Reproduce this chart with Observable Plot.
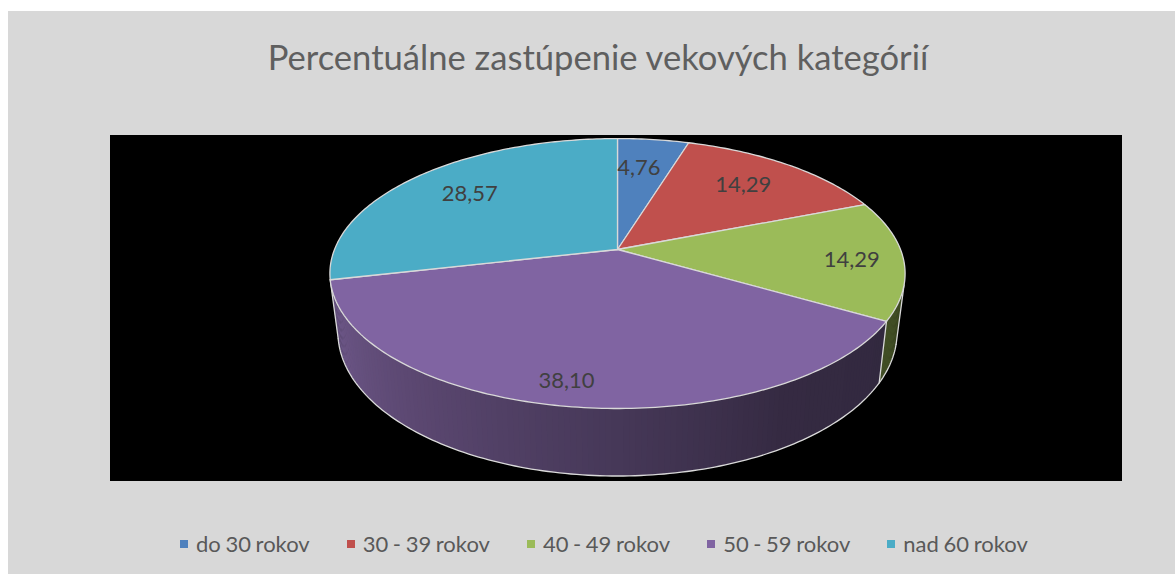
<!DOCTYPE html>
<html lang="sk">
<head>
<meta charset="utf-8">
<script src="https://cdn.jsdelivr.net/npm/d3@7"></script>
<script src="https://cdn.jsdelivr.net/npm/@observablehq/plot@0.6"></script>
<style>
html,body{margin:0;padding:0;background:#fff;overflow:hidden;width:1175px;height:574px}
#panel{position:absolute;left:8px;top:11px;width:1167px;height:563px;background:#d8d8d8;font-family:Lato,sans-serif}
#title{position:absolute;left:0;top:23px;width:1180px;text-align:center;font-size:34.6px;line-height:46px;color:#5f5f5f;white-space:nowrap}
#chart{position:absolute;left:102px;top:124px;line-height:0}
#legend{position:absolute;left:172px;top:518px;display:flex;font-size:22px;word-spacing:-1px;line-height:30px;color:#595959;white-space:nowrap}
#legend span.item{display:flex;align-items:center;margin-right:37px}
#legend i{display:inline-block;width:8px;height:8px;margin-right:8px}
</style>
</head>
<body>
<div id="panel">
  <div id="title"></div>
  <div id="chart"></div>
  <div id="legend"></div>
</div>
<script>
// Data
const titleText = "Percentuálne zastúpenie vekových kategórií";
const categories = ["do 30 rokov", "30 - 39 rokov", "40 - 49 rokov", "50 - 59 rokov", "nad 60 rokov"];
const shares = [4.76, 14.29, 14.29, 38.10, 28.57];
const labels = ["4,76", "14,29", "14,29", "38,10", "28,57"];
const colors = ["#4f81bd", "#c0504d", "#9bbb59", "#8064a2", "#4bacc6"];
const sideColors = ["#2a4160", "#622826", "#414e25", "#41324f", "#265865"];

// Where Excel's label sits inside each slice (fraction of radius, turn in degrees)
const labelRadius = [0.71, 0.73, 0.82, 0.865, 0.73];
const labelTurn = [-1.7, -1, 1, 1.6, 0.7];

// Perspective view of the disc, in the coordinates of the black plot area
const W = 1012, H = 346, CX = 507;
const topRim = {a: 283, b: 130.7, k: 0.178, y0: 114};
const lowRim = {a: 275, b: 139, k: 0.18, y0: 171};
const project = (rim, deg, r = 1) => {
  const t = deg * Math.PI / 180;
  const s = r * Math.sin(t), c = r * Math.cos(t), w = 1 + rim.k * c;
  return {x: CX + rim.a * s / w, y: rim.y0 - rim.b * c / w};
};

// Cumulative slice angles, clockwise from 12 o'clock
const total = d3.sum(shares);
let run = 0;
const slices = shares.map((v, i) => {
  const start = run / total * 360; run += v;
  return {i, start, end: run / total * 360, mid: (start + (run / total * 360)) / 2};
});
const sliceAt = deg => slices.find(s => deg < s.end) || slices[slices.length - 1];

// Top faces
const topFaces = slices.flatMap(s => {
  const n = Math.ceil(s.end - s.start);
  const arc = d3.range(n + 1).map(j => project(topRim, s.start + (s.end - s.start) * j / n));
  return [{x: CX, y: topRim.y0}, ...arc, {x: CX, y: topRim.y0}].map(p => ({...p, id: s.i, color: colors[s.i]}));
});

// Side wall: one thin strip per degree, only on the side facing the viewer
const purple = slices[3];
const rightTurn = 105, leftTurn = purple.end;
const purpleShade = d3.scaleLinear()
  .domain([purple.start, purple.start + 30, 180, 220, purple.end])
  .range(["#32293f", "#352a42", "#463858", "#5c4872", "#705a8c"]);
const wallColor = deg => {
  const s = sliceAt(deg);
  return s.i === 3 ? purpleShade(deg) : sideColors[s.i];
};
const wall = d3.range(rightTurn, Math.floor(leftTurn)).flatMap(d => {
  const c = wallColor(d + 0.5), id = "w" + d, e = Math.min(d + 1.5, leftTurn);
  return [project(topRim, d), project(topRim, e), project(lowRim, e), project(lowRim, d), project(topRim, d)]
    .map(p => ({...p, id, color: c}));
});

// Pale edges on the wall
const lowEdge = [...d3.range(rightTurn, leftTurn), leftTurn].map(d => ({...project(lowRim, d), id: "low"}));
const upright = (deg, id) => [{...project(topRim, deg), id}, {...project(lowRim, deg), id}];
const edges = [...lowEdge, ...upright(rightTurn, "r"), ...upright(leftTurn, "l"), ...upright(purple.start, "b")];

const labelPoints = slices.map(s => ({...project(topRim, s.mid + labelTurn[s.i], labelRadius[s.i]), text: labels[s.i]}));

const chart = Plot.plot({
  width: W, height: H,
  margin: 0,
  x: {domain: [0, W], range: [0, W], axis: null},
  y: {domain: [0, H], range: [0, H], axis: null},
  color: {type: "identity"},
  style: {background: "#000", fontFamily: "Lato, sans-serif"},
  marks: [
    Plot.line(wall, {x: "x", y: "y", z: "id", fill: "color"}),
    Plot.line(edges, {x: "x", y: "y", z: "id", stroke: "#d9d9d9", strokeWidth: 1.3}),
    Plot.line(topFaces, {x: "x", y: "y", z: "id", fill: "color", stroke: "#d9d9d9", strokeWidth: 1.3, strokeLinejoin: "round"}),
    Plot.text(labelPoints, {x: "x", y: "y", text: "text", fill: "#404040", fontSize: 22, textAnchor: "middle"})
  ]
});
document.getElementById("chart").append(chart);

document.getElementById("title").textContent = titleText;
const legend = document.getElementById("legend");
categories.forEach((name, i) => {
  const item = document.createElement("span");
  item.className = "item";
  const mark = document.createElement("i");
  mark.style.background = colors[i];
  item.append(mark, document.createTextNode(name));
  legend.append(item);
});
</script>
</body>
</html>
